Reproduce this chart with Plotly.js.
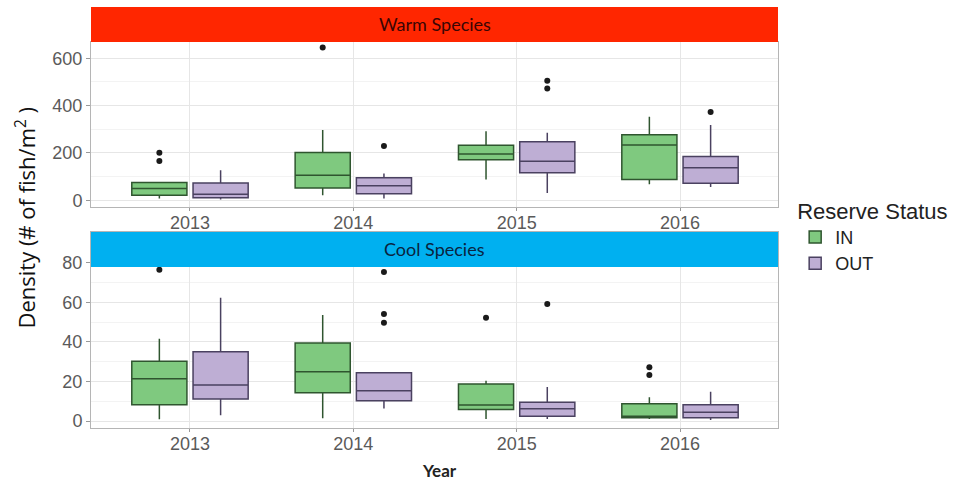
<!DOCTYPE html>
<html>
<head>
<meta charset="utf-8">
<script src="https://cdn.plot.ly/plotly-3.0.1.min.js"></script>
<style>html,body{margin:0;padding:0;background:#fff;}#chart{width:975px;height:483px;}</style>
</head>
<body>
<div id="chart"></div>
<script>
// ---- data ----
const years = [2013, 2014, 2015, 2016];
const tickLabels = ["2013", "2014", "2015", "2016"];

// Warm species (top panel)
const warmIN_q1     = [21, 52, 171, 88];
const warmIN_median = [50, 106, 195, 233];
const warmIN_q3     = [75, 202, 232, 277];
const warmIN_lower  = [7, 21, 88, 68];
const warmIN_upper  = [78, 297, 292, 353];
const warmIN_outX   = [2013, 2013, 2014];
const warmIN_outY   = [201, 166, 645];

const warmOUT_q1     = [11, 28, 116, 72];
const warmOUT_median = [25, 61, 165, 137];
const warmOUT_q3     = [73, 95, 247, 185];
const warmOUT_lower  = [3, 7, 31, 56];
const warmOUT_upper  = [127, 113, 285, 318];
const warmOUT_outX   = [2014, 2015, 2015, 2016];
const warmOUT_outY   = [229, 505, 472, 373];

// Cool species (bottom panel)
const coolIN_q1     = [8.3, 14.3, 5.9, 1.7];
const coolIN_median = [21.4, 24.9, 8.1, 2.5];
const coolIN_q3     = [30.3, 39.5, 18.7, 8.8];
const coolIN_lower  = [0.9, 1.4, 1.0, 1.0];
const coolIN_upper  = [41.6, 53.6, 20.4, 12.1];
const coolIN_outX   = [2013, 2015, 2016, 2016];
const coolIN_outY   = [76.5, 52.3, 27.2, 23.3];

const coolOUT_q1     = [11.1, 10.3, 2.4, 1.7];
const coolOUT_median = [18.2, 15.3, 6.2, 4.4];
const coolOUT_q3     = [35.0, 24.4, 9.5, 8.3];
const coolOUT_lower  = [3.0, 6.4, 1.0, 0.5];
const coolOUT_upper  = [62.4, 24.4, 17.2, 14.8];
const coolOUT_outX   = [2014, 2014, 2014, 2015];
const coolOUT_outY   = [75.4, 54.1, 49.7, 59.2];

// ---- styling ----
const dodge = 0.1875, bw = 0.3375;
const colIN = '#7FC97F', colOUT = '#BEAED4';
const lineIN = '#2f552f', lineOUT = '#4a4160';

function boxTrace(name, q1, med, q3, lo, hi, off, fill, line, xa, ya, showleg) {
  return {
    type: 'box', name: name, legendgroup: name, showlegend: showleg,
    x: years.map(v => v + off), q1: q1, median: med, q3: q3,
    lowerfence: lo, upperfence: hi, width: bw, whiskerwidth: 0,
    boxpoints: false, fillcolor: fill, line: {color: line, width: 1.5},
    xaxis: xa, yaxis: ya, hoverinfo: 'skip'
  };
}
function outTrace(xs, ys, off, xa, ya) {
  return {
    type: 'scatter', mode: 'markers', showlegend: false,
    x: xs.map(v => v + off), y: ys, marker: {color: '#1a1a1a', size: 6},
    xaxis: xa, yaxis: ya, hoverinfo: 'skip'
  };
}

const data = [
  boxTrace('IN', warmIN_q1, warmIN_median, warmIN_q3, warmIN_lower, warmIN_upper, -dodge, colIN, lineIN, 'x', 'y', true),
  boxTrace('OUT', warmOUT_q1, warmOUT_median, warmOUT_q3, warmOUT_lower, warmOUT_upper, dodge, colOUT, lineOUT, 'x', 'y', true),
  boxTrace('IN', coolIN_q1, coolIN_median, coolIN_q3, coolIN_lower, coolIN_upper, -dodge, colIN, lineIN, 'x2', 'y2', false),
  boxTrace('OUT', coolOUT_q1, coolOUT_median, coolOUT_q3, coolOUT_lower, coolOUT_upper, dodge, colOUT, lineOUT, 'x2', 'y2', false),
  outTrace(warmIN_outX, warmIN_outY, -dodge, 'x', 'y'),
  outTrace(warmOUT_outX, warmOUT_outY, dodge, 'x', 'y'),
  outTrace(coolIN_outX, coolIN_outY, -dodge, 'x2', 'y2'),
  outTrace(coolOUT_outX, coolOUT_outY, dodge, 'x2', 'y2')
];

const tickFont = {family: 'Liberation Sans, Arial, sans-serif', size: 18, color: '#5a5a5a'};
const xCommon = {
  range: [2012.394, 2016.6], tickvals: years, ticktext: tickLabels,
  showgrid: true, gridcolor: '#e6e6e6', gridwidth: 1, zeroline: false,
  showline: true, linecolor: '#b5b5b5', linewidth: 1, mirror: true,
  ticks: 'outside', ticklen: 3, tickcolor: '#999', tickfont: tickFont,
  ticklabelstandoff: -4
};
const yCommon = {
  showgrid: true, gridcolor: '#e6e6e6', gridwidth: 1, zeroline: false,
  showline: true, linecolor: '#b5b5b5', linewidth: 1, mirror: true,
  ticks: 'outside', ticklen: 4, tickcolor: '#999', tickfont: tickFont
};

const layout = {
  width: 975, height: 483,
  margin: {l: 91, r: 197, t: 7, b: 55},
  paper_bgcolor: '#fff', plot_bgcolor: '#fff',
  showlegend: true,
  boxmode: 'overlay',
  xaxis: Object.assign({}, xCommon, {anchor: 'y', domain: [0, 1]}),
  xaxis2: Object.assign({}, xCommon, {anchor: 'y2', domain: [0, 1]}),
  yaxis: Object.assign({}, yCommon, {anchor: 'x', domain: [0.525, 0.917], range: [-28.4, 669],
    tickvals: [0, 200, 400, 600],
    minor: {tickvals: [100, 300, 500], showgrid: true, gridcolor: '#f3f3f3', ticks: ''}}),
  yaxis2: Object.assign({}, yCommon, {anchor: 'x2', domain: [0, 0.4656], range: [-3.5, 95.6],
    tickvals: [0, 20, 40, 60, 80],
    minor: {tickvals: [10, 30, 50, 70], showgrid: true, gridcolor: '#f3f3f3', ticks: ''}}),
  legend: {
    x: 1.025, xanchor: 'left', y: 0.565, yanchor: 'top',
    title: {text: 'Reserve Status', font: {family: 'Liberation Sans, Arial, sans-serif', size: 22, color: '#222'}},
    font: {family: 'Liberation Sans, Arial, sans-serif', size: 18, color: '#222'},
    tracegroupgap: 0, itemwidth: 30, bgcolor: 'rgba(0,0,0,0)'
  },
  shapes: [
    {type: 'rect', xref: 'paper', yref: 'paper', x0: 0, x1: 1, y0: 0.917, y1: 1.0,
     fillcolor: '#FF2600', line: {width: 0}, layer: 'above'},
    {type: 'rect', xref: 'paper', yref: 'paper', x0: 0, x1: 1, y0: 0.3824, y1: 0.4656,
     fillcolor: '#00B0F0', line: {width: 0}, layer: 'above'}
  ],
  annotations: [
    {text: 'Warm Species', xref: 'paper', yref: 'paper', x: 0.5, y: 0.9585, showarrow: false,
     xanchor: 'center', yanchor: 'middle',
     font: {family: 'Lato, Open Sans, sans-serif', size: 18, color: '#3a0505'}},
    {text: 'Cool Species', xref: 'paper', yref: 'paper', x: 0.5, y: 0.424, showarrow: false,
     xanchor: 'center', yanchor: 'middle',
     font: {family: 'Lato, Open Sans, sans-serif', size: 18, color: '#0a2440'}},
    {text: 'Density (# of fish/m<sup>2</sup> )', xref: 'paper', yref: 'paper', x: -0.096, y: 0.5,
     textangle: -90, showarrow: false, xanchor: 'center', yanchor: 'middle',
     font: {family: 'Open Sans, sans-serif', size: 22, color: '#111'}},
    {text: '<b>Year</b>', xref: 'paper', yref: 'paper', x: 0.508, y: -0.1, showarrow: false,
     xanchor: 'center', yanchor: 'middle',
     font: {family: 'Lato, Open Sans, sans-serif', size: 17, color: '#222'}}
  ]
};

Plotly.newPlot('chart', data, layout, {displayModeBar: false, staticPlot: true});
</script>
</body>
</html>
